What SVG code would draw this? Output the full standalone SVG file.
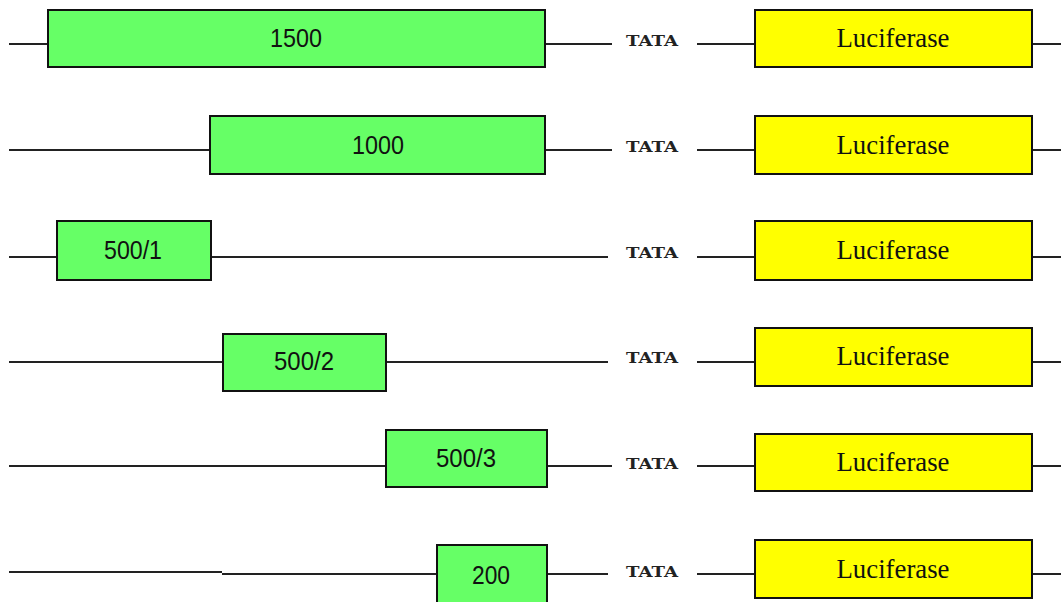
<svg xmlns="http://www.w3.org/2000/svg" width="1061" height="602" viewBox="0 0 1061 602">
<style>
.ln{stroke:#222;stroke-width:2;fill:none}
.g{fill:#66ff66;stroke:#111;stroke-width:2}
.y{fill:#ffff00;stroke:#111;stroke-width:2}
.num{font-family:"Liberation Sans",Arial,sans-serif;font-size:25px;fill:#111;text-anchor:middle}
.luc{font-family:"Liberation Serif","Times New Roman",serif;font-size:28px;fill:#111;text-anchor:middle}
.tata{font-family:"DejaVu Serif","Liberation Serif",serif;font-weight:bold;font-size:15px;fill:#222}
</style>
<rect width="1061" height="602" fill="#fff"/>
<g id="connectors">
<path class="ln" d="M9 44H48M545 44H612M697 44H755M1032 44H1061"/>
<path class="ln" d="M9 150H210M545 150H612M697 150H755M1032 150H1061"/>
<path class="ln" d="M9 257H57M211 257H608M697 257H755M1032 257H1061"/>
<path class="ln" d="M9 362H223M386 362H608M697 362H755M1032 362H1061"/>
<path class="ln" d="M9 466H386M547 466H612M697 466H755M1032 466H1061"/>
<path class="ln" d="M9 572H222M222 574H437M547 574H608M697 574H755M1032 574H1061"/>
</g>
<g id="n1500"><rect class="g" x="48" y="10" width="497" height="57"/><text class="num" x="296" y="47" textLength="52" lengthAdjust="spacingAndGlyphs">1500</text></g>
<g id="n1000"><rect class="g" x="210" y="116" width="335" height="58"/><text class="num" x="378" y="154" textLength="52" lengthAdjust="spacingAndGlyphs">1000</text></g>
<g id="n500_1"><rect class="g" x="57" y="221" width="154" height="59"/><text class="num" x="133" y="259" textLength="58" lengthAdjust="spacingAndGlyphs">500/1</text></g>
<g id="n500_2"><rect class="g" x="223" y="334" width="163" height="57"/><text class="num" x="304" y="370" textLength="60" lengthAdjust="spacingAndGlyphs">500/2</text></g>
<g id="n500_3"><rect class="g" x="386" y="430" width="161" height="57"/><text class="num" x="466" y="467" textLength="60" lengthAdjust="spacingAndGlyphs">500/3</text></g>
<g id="n200"><rect class="g" x="437" y="545" width="110" height="60"/><text class="num" x="491" y="584" textLength="38" lengthAdjust="spacingAndGlyphs">200</text></g>
<g id="tata1"><text class="tata" x="626" y="46" textLength="52" lengthAdjust="spacingAndGlyphs">TATA</text></g>
<g id="tata2"><text class="tata" x="626" y="152" textLength="52" lengthAdjust="spacingAndGlyphs">TATA</text></g>
<g id="tata3"><text class="tata" x="626" y="258" textLength="52" lengthAdjust="spacingAndGlyphs">TATA</text></g>
<g id="tata4"><text class="tata" x="626" y="363" textLength="52" lengthAdjust="spacingAndGlyphs">TATA</text></g>
<g id="tata5"><text class="tata" x="626" y="469" textLength="52" lengthAdjust="spacingAndGlyphs">TATA</text></g>
<g id="tata6"><text class="tata" x="626" y="577" textLength="52" lengthAdjust="spacingAndGlyphs">TATA</text></g>
<g id="luc1"><rect class="y" x="755" y="10" width="277" height="57"/><text class="luc" x="893" y="47" textLength="113" lengthAdjust="spacingAndGlyphs">Luciferase</text></g>
<g id="luc2"><rect class="y" x="755" y="116" width="277" height="58"/><text class="luc" x="893" y="154" textLength="113" lengthAdjust="spacingAndGlyphs">Luciferase</text></g>
<g id="luc3"><rect class="y" x="755" y="221" width="277" height="59"/><text class="luc" x="893" y="259" textLength="113" lengthAdjust="spacingAndGlyphs">Luciferase</text></g>
<g id="luc4"><rect class="y" x="755" y="328" width="277" height="58"/><text class="luc" x="893" y="365" textLength="113" lengthAdjust="spacingAndGlyphs">Luciferase</text></g>
<g id="luc5"><rect class="y" x="755" y="434" width="277" height="57"/><text class="luc" x="893" y="471" textLength="113" lengthAdjust="spacingAndGlyphs">Luciferase</text></g>
<g id="luc6"><rect class="y" x="755" y="540" width="277" height="58"/><text class="luc" x="893" y="578" textLength="113" lengthAdjust="spacingAndGlyphs">Luciferase</text></g>
</svg>
